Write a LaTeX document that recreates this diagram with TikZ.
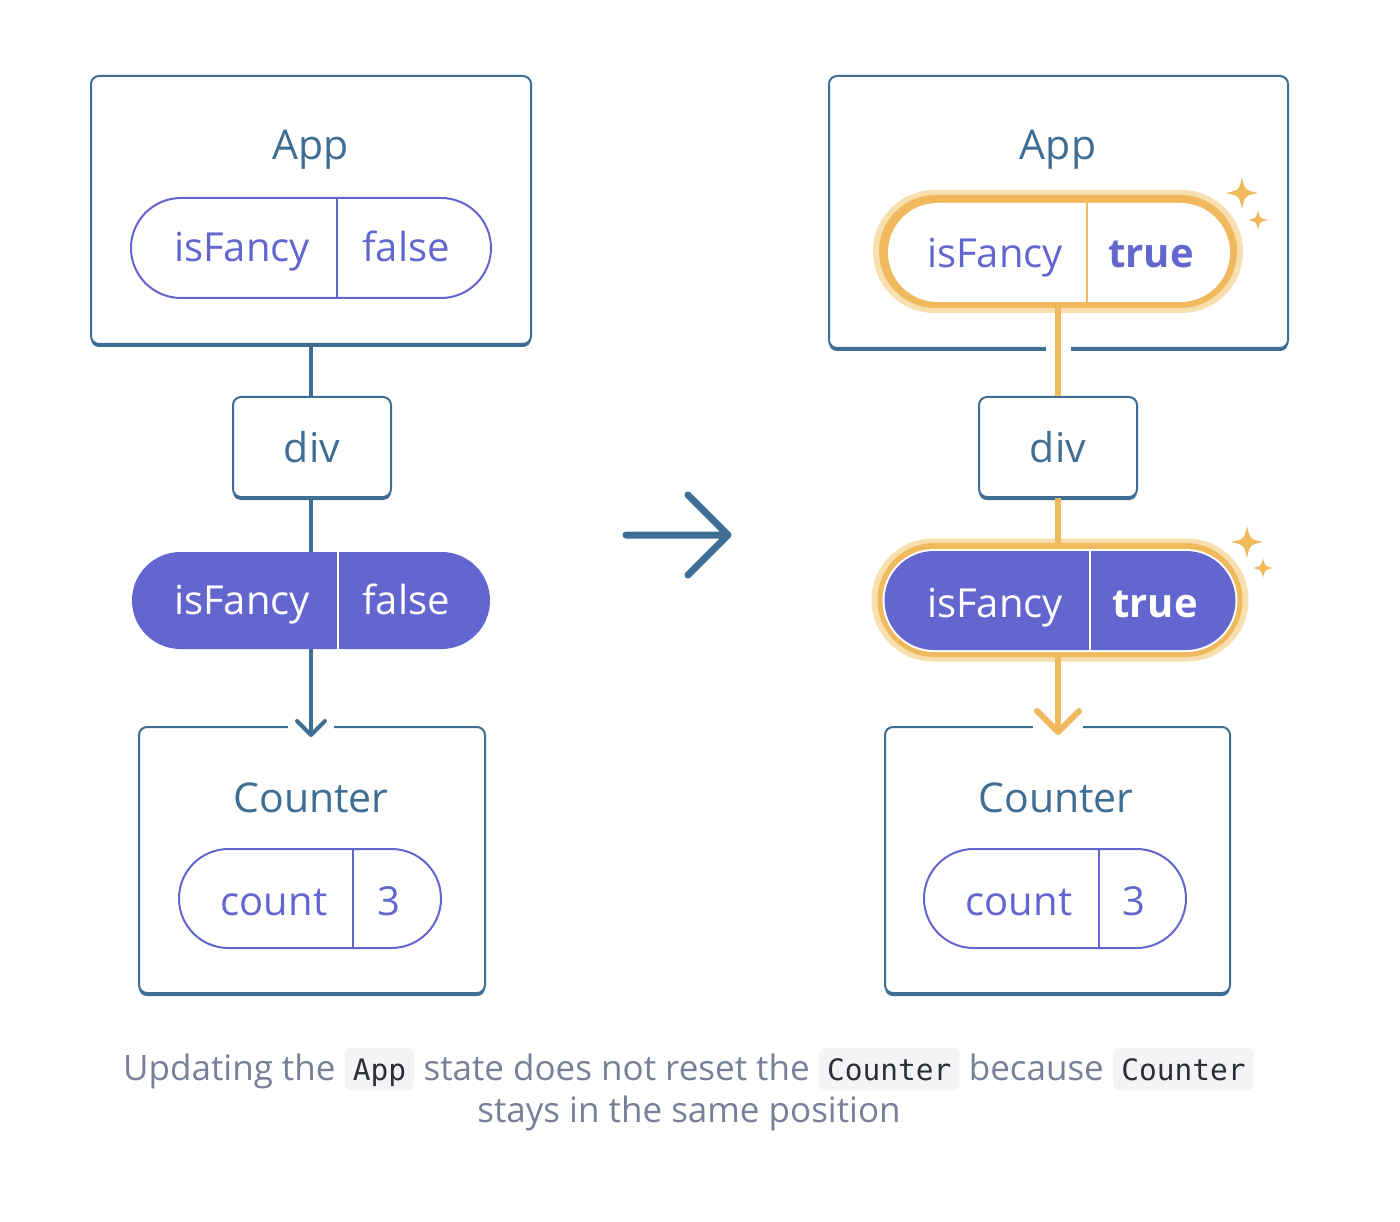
\documentclass[tikz,border=0pt]{standalone}
\usepackage{fontspec}
\setmainfont{Open Sans}
\setmonofont{DejaVu Sans Mono}
\usepackage{xcolor}
\usetikzlibrary{arrows.meta,shapes.misc,shadows,positioning}
\definecolor{boxblue}{HTML}{3F6E94}
\definecolor{pillpurple}{HTML}{6366CF}
\definecolor{gold}{HTML}{F0B95E}
\definecolor{goldlight}{HTML}{F8DFAE}
\definecolor{capgray}{HTML}{7A7F98}
\definecolor{codebg}{HTML}{F4F4F6}
\definecolor{codeink}{HTML}{2B2F38}
\tikzset{sparkle/.pic={
	\fill[gold] (0,-1) .. controls (0.18,-0.18) .. (1,0) .. controls (0.18,0.18) .. (0,1)
		.. controls (-0.18,0.18) .. (-1,0) .. controls (-0.18,-0.18) .. (0,-1) -- cycle;}}

\begin{document}
\begin{tikzpicture}[x=1pt,y=-1pt]
		\tikzstyle{compbox}=[draw=boxblue, line width=2pt, fill=white, rounded corners=8pt, inner sep=0pt, drop shadow={shadow xshift=0pt, shadow yshift=-3pt, fill=boxblue, opacity=1}]
		\tikzstyle{pill}=[rounded rectangle, draw=pillpurple, line width=2pt, fill=white, inner sep=0pt]
		\tikzstyle{pillfill}=[rounded rectangle, fill=pillpurple, inner sep=0pt]
		\tikzstyle{title}=[font=\fontsize{41}{48}\selectfont, text=boxblue, anchor=base, inner sep=0pt]
		\tikzstyle{keytext}=[font=\fontsize{40}{46}\selectfont, text=pillpurple, anchor=base, inner sep=0pt]
		\tikzstyle{conn}=[draw=boxblue, line width=4pt]
		\tikzstyle{goldconn}=[draw=gold, line width=6pt]
		\tikzstyle{captext}=[font=\fontsize{35}{42}\selectfont, text=capgray, inner sep=0pt, anchor=base west]
		\tikzstyle{codetext}=[font=\ttfamily\fontsize{29.5}{35}\selectfont, text=codeink, fill=codebg, rounded corners=6pt, inner xsep=8pt, text height=22pt, text depth=0pt, minimum height=42pt, anchor=base west]
		\useasboundingbox[fill=white] (0,0) rectangle (1400,1222);
		% left tree
		\node[compbox, minimum width=440pt, minimum height=268pt] (appL) at (311,210) {};
		\node[title] (appLt) at (311,160) {App};
		\node[pill, minimum width=360pt, minimum height=100pt] (stateL) at (311,248) {};
		\draw[pillpurple, line width=2pt] (337,198) -- (337,298);
		\node[keytext] (keyL) at (242,262) {isFancy};
		\node[keytext] (valL) at (406,262) {false};
		\node[compbox, minimum width=158pt, minimum height=100pt] (divL) at (312,447) {};
		\node[title] (divLt) at (312,462) {div};
		\node[pillfill, minimum width=358pt, minimum height=97pt] (fancyL) at (311,600.5) {};
		\draw[white, line width=2pt] (338,552) -- (338,649);
		\node[keytext, text=white] (fkeyL) at (242,614) {isFancy};
		\node[keytext, text=white] (fvalL) at (406,614) {false};
		\node[compbox, minimum width=346pt, minimum height=266pt] (cntL) at (312,860) {};
		\node[title] (cntLt) at (311,812) {Counter};
		\node[pill, minimum width=262pt, minimum height=99pt] (countL) at (310,898.5) {};
		\draw[pillpurple, line width=2pt] (353,849) -- (353,948);
		\node[keytext] (ckeyL) at (274,915) {count};
		\node[keytext] (cvalL) at (389,915) {3};
		\fill[white] (288,723) rectangle (334,732);
		\coordinate (tipL) at (311,737);
		\draw[conn] (appL.south) -- (appL.south |- divL.north);
		\draw[conn] (appL.south |- divL.south) -- (appL.south |- fancyL.north);
		\draw[conn, -{Straight Barb[length=14pt, width=28pt, round]}] (appL.south |- fancyL.south) -- (tipL);

		% middle arrow
		\draw[boxblue, line width=7pt, line cap=round, line join=round] (626,535) -- (728,535) (688,495) -- (728,535) -- (688,575);

		% right tree
		\node[compbox, minimum width=459pt, minimum height=272pt] (appR) at (1058.5,212) {};
		\fill[white] (1046,343) rectangle (1071,356);
		\node[title] (appRt) at (1058,160) {App};
		\node[rounded rectangle, fill=goldlight, inner sep=0pt, minimum width=370pt, minimum height=123pt] (glowR1) at (1058,251.5) {};
		\node[rounded rectangle, fill=gold, inner sep=0pt, minimum width=358pt, minimum height=113pt] (ringR1) at (1058,251.5) {};
		\node[rounded rectangle, fill=white, inner sep=0pt, minimum width=342pt, minimum height=99pt] (stateR) at (1059,252.5) {};
		\draw[gold, line width=2pt] (1087,203) -- (1087,302);
		\node[keytext] (keyR) at (995,268) {isFancy};
		\node[keytext, font=\fontsize{40}{46}\selectfont\bfseries] (valR) at (1151,268) {true};
		\pic[scale=16] at (1242,193) {sparkle};
		\pic[scale=10] at (1258,220) {sparkle};
		\node[compbox, minimum width=158pt, minimum height=100pt] (divR) at (1058,447) {};
		\node[title] (divRt) at (1058,462) {div};
		\node[rounded rectangle, fill=goldlight, inner sep=0pt, minimum width=377pt, minimum height=123pt] (glowR2) at (1060,600) {};
		\node[rounded rectangle, fill=gold, inner sep=0pt, minimum width=365pt, minimum height=114pt] (ringR2) at (1060,600) {};
		\node[rounded rectangle, fill=white, inner sep=0pt, minimum width=355pt, minimum height=103pt] (edgeR2) at (1060,600.5) {};
		\node[pillfill, minimum width=351pt, minimum height=99pt] (fancyR) at (1060,600.5) {};
		\draw[white, line width=2pt] (1090,551) -- (1090,650);
		\node[keytext, text=white] (fkeyR) at (995,617) {isFancy};
		\node[keytext, text=white, font=\fontsize{40}{46}\selectfont\bfseries] (fvalR) at (1155,617) {true};
		\pic[scale=16] at (1247,542) {sparkle};
		\pic[scale=10] at (1263,568) {sparkle};
		\node[compbox, minimum width=345pt, minimum height=266pt] (cntR) at (1057.5,860) {};
		\node[title] (cntRt) at (1056,812) {Counter};
		\node[pill, minimum width=262pt, minimum height=99pt] (countR) at (1055,898.5) {};
		\draw[pillpurple, line width=2pt] (1099,849) -- (1099,948);
		\node[keytext] (ckeyR) at (1019,915) {count};
		\node[keytext] (cvalR) at (1134,915) {3};
		\fill[white] (1033,722) rectangle (1083,732);
		\coordinate (tipR) at (1058,735);
		\draw[goldconn] (ringR1.south) -- (ringR1.south |- divR.north);
		\draw[goldconn] (ringR1.south |- divR.south) -- (ringR1.south |- ringR2.north);
		\draw[goldconn, -{Straight Barb[length=21pt, width=42pt, round]}] (ringR1.south |- ringR2.south) -- (tipR);

		% caption
		\node[captext] (cap1) at (123,1080) {Updating the};
		\node[codetext] (code1) at ([xshift=9pt]cap1.base east) {App};
		\node[captext] (cap2) at ([xshift=9pt]code1.base east) {state does not reset the};
		\node[codetext] (code2) at ([xshift=9pt]cap2.base east) {Counter};
		\node[captext] (cap3) at ([xshift=9pt]code2.base east) {because};
		\node[codetext] (code3) at ([xshift=9pt]cap3.base east) {Counter};
		\node[captext, anchor=base] (cap4) at (689,1122) {stays in the same position};
\end{tikzpicture}
\end{document}
